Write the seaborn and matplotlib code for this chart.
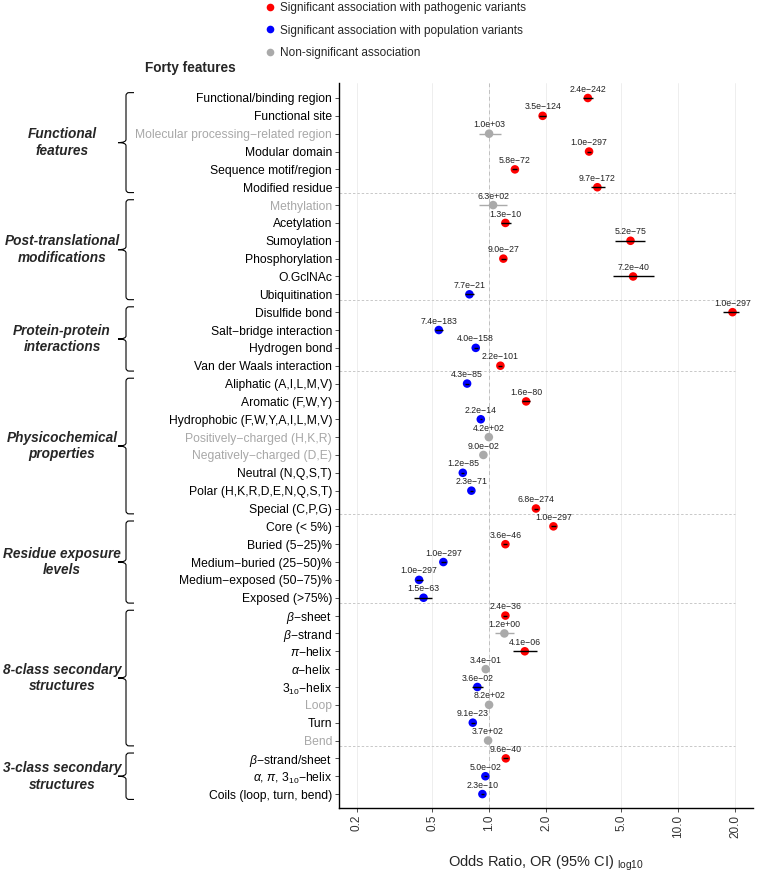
import numpy as np
import pandas as pd
import matplotlib
matplotlib.use("Agg")
import matplotlib.pyplot as plt
import matplotlib.transforms as mtransforms
from matplotlib.path import Path
from matplotlib.patches import PathPatch
from matplotlib.lines import Line2D
import seaborn as sns

# Forty features, top to bottom
features = [
    "Functional/binding region", "Functional site", "Molecular processing\u2212related region",
    "Modular domain", "Sequence motif/region", "Modified residue",
    "Methylation", "Acetylation", "Sumoylation", "Phosphorylation", "O.GclNAc", "Ubiquitination",
    "Disulfide bond", "Salt\u2212bridge interaction", "Hydrogen bond", "Van der Waals interaction",
    "Aliphatic (A,I,L,M,V)", "Aromatic (F,W,Y)", "Hydrophobic (F,W,Y,A,I,L,M,V)",
    "Positively\u2212charged (H,K,R)", "Negatively\u2212charged (D,E)", "Neutral (N,Q,S,T)",
    "Polar (H,K,R,D,E,N,Q,S,T)", "Special (C,P,G)",
    "Core (< 5%)", "Buried (5\u221225)%", "Medium\u2212buried (25\u221250)%",
    "Medium\u2212exposed (50\u221275)%", "Exposed (>75%)",
    r"$\beta$" + "\u2212sheet", r"$\beta$" + "\u2212strand", r"$\pi$" + "\u2212helix",
    r"$\alpha$" + "\u2212helix", r"3$_{10}$" + "\u2212helix", "Loop", "Turn", "Bend",
    r"$\beta$" + "\u2212strand/sheet", r"$\alpha$, $\pi$, 3$_{10}$" + "\u2212helix",
    "Coils (loop, turn, bend)",
]

group_names = ["Functional\nfeatures", "Post-translational\nmodifications",
               "Protein-protein\ninteractions", "Physicochemical\nproperties",
               "Residue exposure\nlevels", "8-class secondary\nstructures",
               "3-class secondary\nstructures"]
group_sizes = [6, 6, 4, 8, 5, 8, 3]

odds_ratio = [3.33, 1.92, 1.00, 3.38, 1.37, 3.74,
              1.05, 1.22, 5.60, 1.19, 5.78, 0.787,
              19.4, 0.542, 0.85, 1.148,
              0.765, 1.57, 0.904, 0.997, 0.933, 0.726, 0.806, 1.77,
              2.19, 1.22, 0.573, 0.426, 0.45,
              1.22, 1.205, 1.545, 0.96, 0.867, 1.00, 0.82, 0.988,
              1.226, 0.956, 0.922]
ci_low = [3.13, 1.84, 0.88, 3.30, 1.33, 3.46,
          0.88, 1.16, 4.66, 1.15, 4.50, 0.75,
          17.3, 0.52, 0.83, 1.12,
          0.75, 1.50, 0.89, 0.98, 0.92, 0.71, 0.79, 1.72,
          2.12, 1.19, 0.56, 0.41, 0.40,
          1.19, 1.08, 1.34, 0.95, 0.81, 0.99, 0.80, 0.97,
          1.19, 0.94, 0.91]
ci_high = [3.55, 2.01, 1.15, 3.46, 1.41, 4.12,
           1.25, 1.30, 6.70, 1.23, 7.45, 0.83,
           20.9, 0.57, 0.87, 1.17,
           0.78, 1.64, 0.92, 1.01, 0.95, 0.74, 0.82, 1.82,
           2.26, 1.25, 0.59, 0.445, 0.50,
           1.25, 1.35, 1.79, 0.97, 0.93, 1.01, 0.84, 1.01,
           1.26, 0.97, 0.935]
p_values = ["2.4e\u2212242", "3.5e\u2212124", "1.0e+03", "1.0e\u2212297", "5.8e\u221272", "9.7e\u2212172",
            "6.3e+02", "1.3e\u221210", "5.2e\u221275", "9.0e\u221227", "7.2e\u221240", "7.7e\u221221",
            "1.0e\u2212297", "7.4e\u2212183", "4.0e\u2212158", "2.2e\u2212101",
            "4.3e\u221285", "1.6e\u221280", "2.2e\u221214", "4.2e+02", "9.0e\u221202", "1.2e\u221285",
            "2.3e\u221271", "6.8e\u2212274",
            "1.0e\u2212297", "3.6e\u221246", "1.0e\u2212297", "1.0e\u2212297", "1.5e\u221263",
            "2.4e\u221236", "1.2e+00", "4.1e\u221206", "3.4e\u221201", "3.6e\u221202", "8.2e+02",
            "9.1e\u221223", "3.7e+02",
            "9.6e\u221240", "5.0e\u221202", "2.3e\u221210"]
# P = pathogenic, B = population, N = non-significant
association = ["P", "P", "N", "P", "P", "P",
               "N", "P", "P", "P", "P", "B",
               "P", "B", "B", "P",
               "B", "P", "B", "N", "N", "B", "B", "P",
               "P", "P", "B", "B", "B",
               "P", "N", "P", "N", "B", "N", "B", "N",
               "P", "B", "B"]
grey_labels = [2, 6, 19, 20, 34, 36]

x_ticks = [0.2, 0.5, 1.0, 2.0, 5.0, 10.0, 20.0]
x_tick_labels = ["0.2", "0.5", "1.0", "2.0", "5.0", "10.0", "20.0"]

legend_labels = {"P": "Significant association with pathogenic variants",
                 "B": "Significant association with population variants",
                 "N": "Non-significant association"}
palette = {"P": "#FF0000", "B": "#0000FF", "N": "#AAAAAA"}

df = pd.DataFrame({
    "feature": features,
    "row": np.arange(len(features)),
    "odds_ratio": odds_ratio,
    "ci_low": ci_low,
    "ci_high": ci_high,
    "p": p_values,
    "association": association,
})

sns.set_theme(style="white")
plt.rcParams["font.family"] = ["Liberation Sans", "DejaVu Sans"]
plt.rcParams["mathtext.fontset"] = "custom"
plt.rcParams["mathtext.rm"] = "Liberation Sans"
plt.rcParams["mathtext.it"] = "Liberation Sans:italic"

fig = plt.figure(figsize=(7.62, 8.75), dpi=100)
ax = fig.add_axes([339 / 762, 1 - 808 / 875, (753 - 339) / 762, (808 - 83) / 875])

# vertical grid + reference line
for t in x_ticks:
    ax.axvline(t, color="#EBEBEB", lw=0.6, zorder=0)
ax.axvline(1.0, color="#C0C0C0", lw=0.7, ls=(0, (4, 3)), zorder=1)

# group separators
ends = np.cumsum(group_sizes) - 1
for e in ends[:-1]:
    ax.hlines(e + 0.3, 0.1, 20, color="#C8C8C8", lw=0.7, ls=(0, (2.5, 2)), zorder=1)

sns.scatterplot(data=df, x="odds_ratio", y="row", hue="association", palette=palette,
                s=38, linewidth=0, legend=False, ax=ax, zorder=3)

err_col = ["#AAAAAA" if a == "N" else "black" for a in df["association"]]
ax.hlines(df["row"], df["ci_low"], df["ci_high"], colors=err_col, lw=1.0, zorder=4)

for _, r in df.iterrows():
    ax.text(r["odds_ratio"], r["row"] - 0.5, r["p"], ha="center", va="center",
            fontsize=6.3, color="#222222", zorder=5)

ax.set_xscale("log")
ax.set_xlim(0.1607, 24.9)
ax.set_ylim(39.78, -0.84)
ax.set_xticks(x_ticks)
ax.set_xticklabels(x_tick_labels, rotation=90, fontsize=8.5, color="#333333")
ax.xaxis.set_minor_locator(matplotlib.ticker.NullLocator())
ax.set_yticks(df["row"])
ax.set_yticklabels(features, fontsize=8.7)
for i, lab in enumerate(ax.get_yticklabels()):
    lab.set_color("#A8A8A8" if i in grey_labels else "black")
ax.tick_params(axis="both", length=3, width=0.6, color="#333333", pad=2, left=True, bottom=True)
ax.set_ylabel("")
ax.set_xlabel("Odds Ratio, OR (95% CI) $_{\\mathregular{log10}}$", fontsize=10.5, labelpad=11)

for s in ["top", "right"]:
    ax.spines[s].set_visible(False)
for s in ["left", "bottom"]:
    ax.spines[s].set_color("black")
    ax.spines[s].set_linewidth(1.0)

# braces and group labels
trans = mtransforms.blended_transform_factory(fig.transFigure, ax.transData)
xv, xa, xt = 126 / 762, 134 / 762, 118 / 762
rx, ry = 3 / 762, 0.17
start = 0
for name, n in zip(group_names, group_sizes):
    top, bot = start - 0.3, start + n - 1 + 0.3
    mid = (top + bot) / 2
    verts = [(xa, top), (xv + rx, top), (xv, top), (xv, top + ry),
             (xv, mid - ry), (xv, mid), (xt, mid),
             (xv, mid), (xv, mid + ry),
             (xv, bot - ry), (xv, bot), (xv + rx, bot), (xa, bot)]
    codes = [Path.MOVETO, Path.LINETO, Path.CURVE3, Path.CURVE3,
             Path.LINETO, Path.CURVE3, Path.CURVE3,
             Path.CURVE3, Path.CURVE3,
             Path.LINETO, Path.CURVE3, Path.CURVE3, Path.LINETO]
    fig.add_artist(PathPatch(Path(verts, codes), transform=trans, fill=False,
                             lw=0.8, edgecolor="black", clip_on=False))
    fig.text(62 / 762, mid, name, transform=trans, ha="center", va="center",
             fontsize=9.8, fontweight="bold", fontstyle="italic", linespacing=1.25)
    start += n

fig.text(190 / 762, 1 - 68 / 875, "Forty features", ha="center", va="center",
         fontsize=9.8, fontweight="bold")

handles = [Line2D([], [], ls="", marker="o", markersize=5.5, markerfacecolor=palette[k],
                  markeredgewidth=0, label=legend_labels[k]) for k in ["P", "B", "N"]]
fig.legend(handles=handles, loc="upper left", bbox_to_anchor=(265 / 762, 1 - 2 / 875),
           frameon=False, fontsize=8.5, handlelength=0.8, handletextpad=0.5,
           labelspacing=0.9, borderpad=0, borderaxespad=0)

fig.savefig("out.png", dpi=100)
